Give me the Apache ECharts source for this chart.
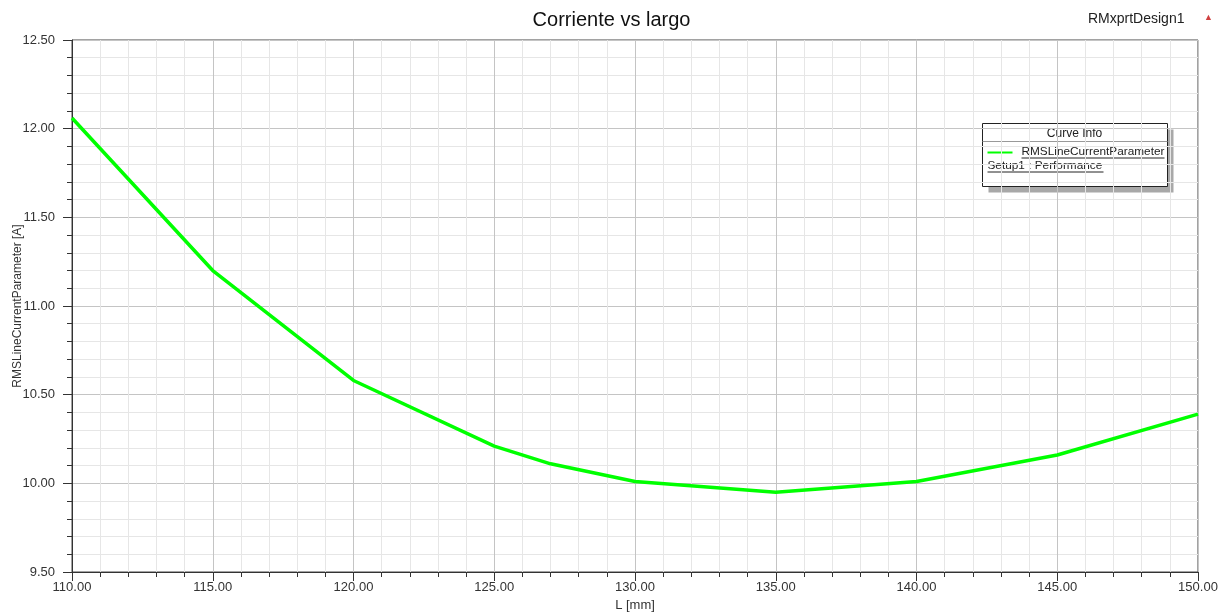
<!DOCTYPE html>
<html>
<head>
<meta charset="utf-8">
<title>Corriente vs largo</title>
<script src="https://cdn.jsdelivr.net/npm/echarts@6/dist/echarts.min.js"></script>
<style>
html, body { margin: 0; padding: 0; background: #fff; }
#chart { width: 1223px; height: 614px; }
</style>
</head>
<body>
<div id="chart"></div>
<script>
// sweep values
var largo = [110, 115, 120, 125, 127, 130, 135, 140, 145, 150];
var corriente = [12.06, 11.20, 10.58, 10.21, 10.11, 10.01, 9.95, 10.01, 10.16, 10.39];

var font = 'Liberation Sans, Arial, sans-serif';
var my_chart = echarts.init(document.getElementById('chart'));

var data = [];
for (var i = 0; i < largo.length; ++i)
	data.push([largo[i], corriente[i]]);

function fmt(v) { return v.toFixed(2); }

var option = {
	animation: false,
	backgroundColor: '#fff',
	title: {
		text: 'Corriente vs largo',
		left: 'center',
		top: 5,
		textStyle: { fontFamily: font, fontSize: 20, fontWeight: 'normal', color: '#111' }
	},
	grid: {
		left: 72, right: 25, top: 40, bottom: 42,
		outerBoundsMode: 'none',
		containLabel: false,
		show: true, borderColor: '#444', borderWidth: 1
	},
	xAxis: {
		type: 'value',
		min: 110, max: 150, interval: 5,
		name: 'L [mm]',
		nameLocation: 'middle',
		nameGap: 27,
		nameMoveOverlap: false,
		nameTextStyle: { fontFamily: font, fontSize: 13, color: '#333' },
		axisLine: { lineStyle: { color: '#333' } },
		axisTick: { length: 9, lineStyle: { color: '#333' } },
		minorTick: { show: true, splitNumber: 5, length: 5, lineStyle: { color: '#333' } },
		axisLabel: { formatter: fmt, fontFamily: font, fontSize: 13, color: '#333', margin: 9 },
		splitLine: { lineStyle: { color: '#c4c4c4' } },
		minorSplitLine: { show: true, lineStyle: { color: '#e6e6e6' } }
	},
	yAxis: {
		type: 'value',
		min: 9.5, max: 12.5, interval: 0.5,
		name: 'RMSLineCurrentParameter [A]',
		nameLocation: 'middle',
		nameGap: 48,
		nameMoveOverlap: false,
		nameTextStyle: { fontFamily: font, fontSize: 12, color: '#333' },
		axisLine: { show: true, lineStyle: { color: '#333' } },
		axisTick: { show: true, length: 9, lineStyle: { color: '#333' } },
		minorTick: { show: true, splitNumber: 5, length: 5, lineStyle: { color: '#333' } },
		axisLabel: { formatter: fmt, fontFamily: font, fontSize: 13, color: '#333', margin: 17 },
		splitLine: { lineStyle: { color: '#c4c4c4' } },
		minorSplitLine: { show: true, lineStyle: { color: '#e6e6e6' } }
	},
	series: [{
		name: 'RMSLineCurrentParameter',
		type: 'line',
		showSymbol: false,
		lineStyle: { color: '#00ff00', width: 3.5 },
		data: data
	}],
	graphic: [
		{ type: 'text', left: 1088, top: 12, style: { text: 'RMxprtDesign1', font: '14px ' + font, fill: '#222' } },
		{ type: 'text', left: 1204, top: 13, style: { text: '\u25B2', font: '9px ' + font, fill: '#d04040' } },
		{
			type: 'group', left: 980, top: 123,
			children: [
				{ type: 'rect', shape: { x: 6, y: 6, width: 185, height: 63 }, style: { fill: '#a8a8a8' } },
				{ type: 'rect', shape: { x: 0, y: 0, width: 185, height: 63 }, style: { fill: '#fff', stroke: '#222', lineWidth: 1 } },
				{ type: 'line', shape: { x1: 0, y1: 18, x2: 185, y2: 18 }, style: { stroke: '#999', lineWidth: 1 } },
				{ type: 'text', x: 92, y: 10, style: { text: 'Curve Info', font: '12px ' + font, fill: '#222', align: 'center', verticalAlign: 'middle' } },
				{ type: 'line', shape: { x1: 5, y1: 29, x2: 30, y2: 29 }, style: { stroke: '#00ff00', lineWidth: 2 } },
				{ type: 'text', x: 39, y: 28, style: { text: 'RMSLineCurrentParameter', font: '11.8px ' + font, fill: '#222', verticalAlign: 'middle' } },
				{ type: 'line', shape: { x1: 39, y1: 34.5, x2: 182, y2: 34.5 }, style: { stroke: '#222', lineWidth: 1 } },
				{ type: 'text', x: 5, y: 42, style: { text: 'Setup1 : Performance', font: '11.8px ' + font, fill: '#222', verticalAlign: 'middle' } },
				{ type: 'line', shape: { x1: 5, y1: 48.5, x2: 121, y2: 48.5 }, style: { stroke: '#222', lineWidth: 1 } }
			]
		}
	]
};

my_chart.setOption(option);
</script>
</body>
</html>
